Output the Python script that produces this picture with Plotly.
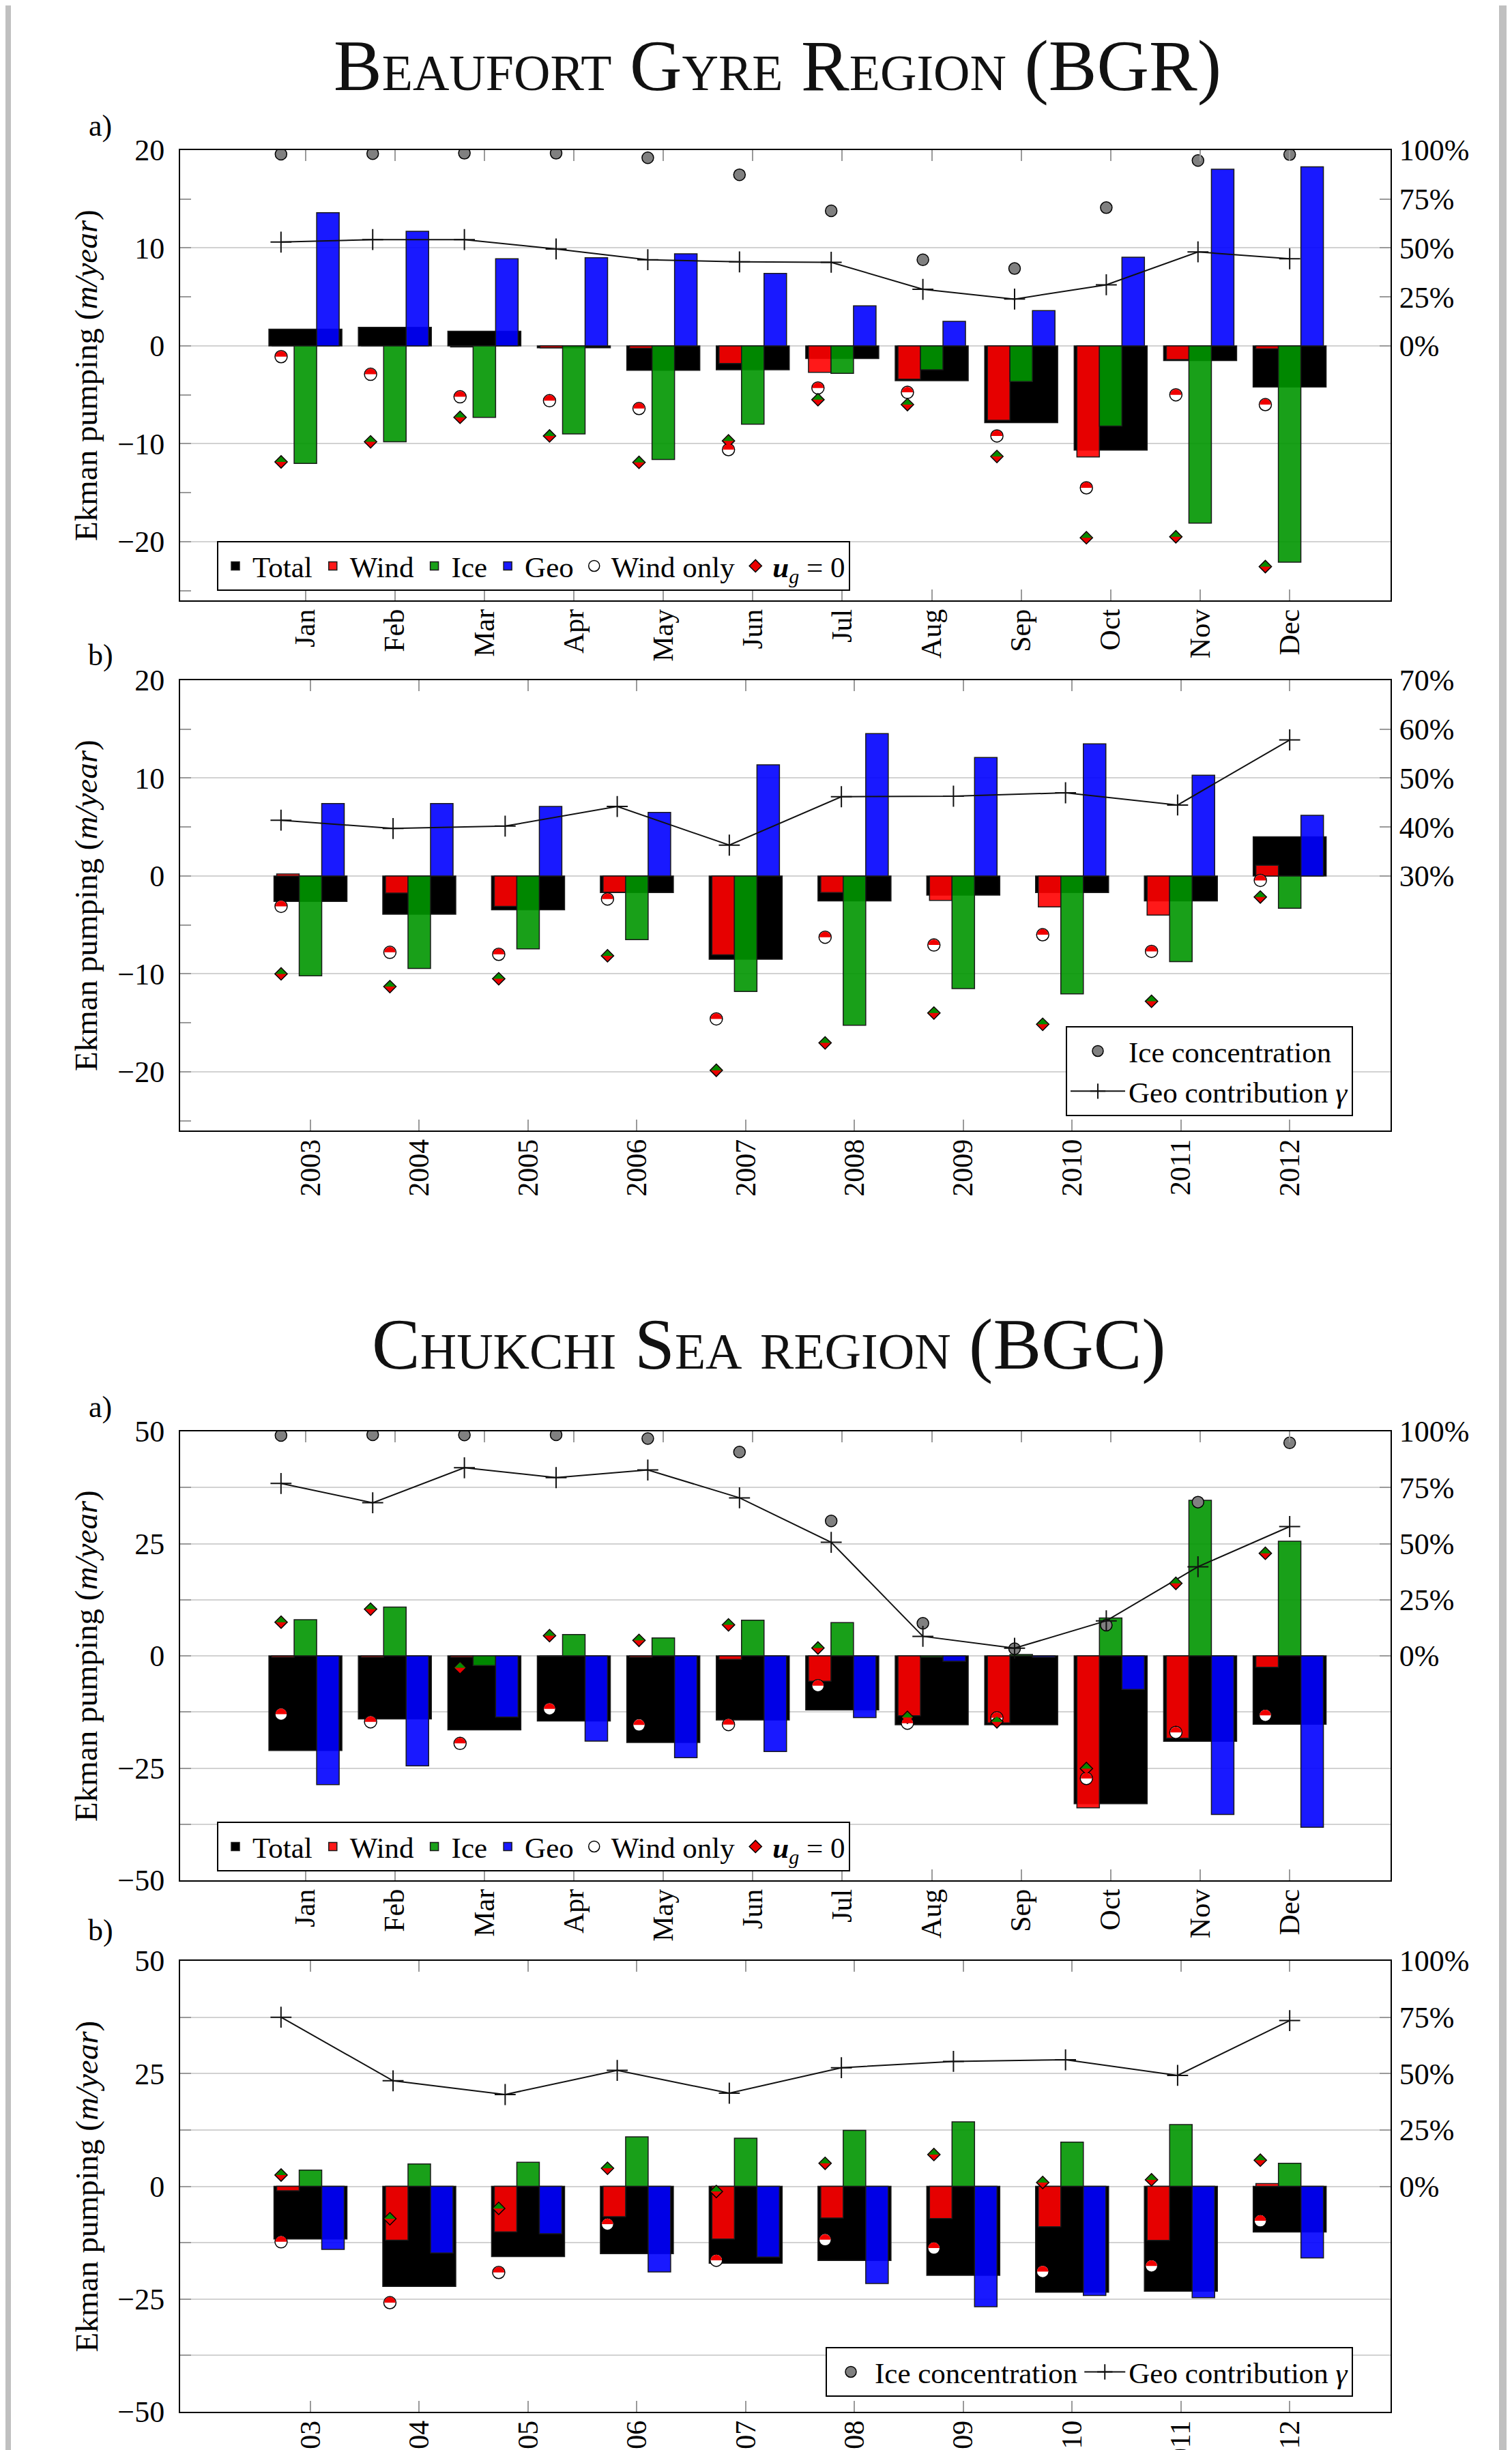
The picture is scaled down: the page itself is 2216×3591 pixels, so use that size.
import plotly.graph_objects as go

# ---------------- data ----------------
months = ['Jan', 'Feb', 'Mar', 'Apr', 'May', 'Jun', 'Jul', 'Aug', 'Sep', 'Oct', 'Nov', 'Dec']
years = ['2003', '2004', '2005', '2006', '2007', '2008', '2009', '2010', '2011', '2012']

# Beaufort Gyre Region, monthly (m/year)
bgr_m_total = [1.7, 1.9, 1.5, -0.2, -2.5, -2.45, -1.3, -3.55, -7.85, -10.65, -1.5, -4.2]
bgr_m_wind = [0.0, 0.0, -0.1, -0.2, -0.25, -1.8, -2.7, -3.4, -7.6, -11.35, -1.4, -0.3]
bgr_m_ice = [-12.0, -9.8, -7.3, -9.0, -11.6, -8.0, -2.8, -2.45, -3.65, -8.2, -18.1, -22.1]
bgr_m_geo = [13.6, 11.7, 8.9, 9.0, 9.4, 7.4, 4.1, 2.5, 3.6, 9.05, 18.05, 18.3]
bgr_m_windonly = [-1.1, -2.9, -5.2, -5.6, -6.4, -10.6, -4.3, -4.75, -9.2, -14.5, -5.0, -6.0]
bgr_m_ug0 = [-11.85, -9.8, -7.3, -9.2, -11.9, -9.7, -5.5, -6.0, -11.3, -19.6, -19.5, -22.55]
bgr_m_iceconc = [97.9, 98.2, 98.4, 98.4, 96.1, 87.4, 69.0, 44.0, 39.5, 70.6, 94.7, 97.7]
bgr_m_geocontrib = [53.0, 54.3, 54.3, 49.5, 44.0, 42.9, 42.7, 28.9, 23.9, 31.2, 48.0, 44.5]

# Beaufort Gyre Region, yearly
bgr_y_total = [-2.6, -3.9, -3.45, -1.7, -8.5, -2.55, -1.95, -1.7, -2.55, 4.0]
bgr_y_wind = [0.2, -1.75, -3.1, -1.65, -8.05, -1.7, -2.5, -3.15, -4.0, 1.1]
bgr_y_ice = [-10.2, -9.45, -7.45, -6.5, -11.8, -15.25, -11.5, -12.05, -8.75, -3.3]
bgr_y_geo = [7.4, 7.4, 7.1, 6.5, 11.35, 14.55, 12.1, 13.5, 10.3, 6.2]
bgr_y_windonly = [-3.1, -7.8, -8.0, -2.35, -14.6, -6.25, -7.05, -6.0, -7.7, -0.45]
bgr_y_ug0 = [-10.0, -11.3, -10.5, -8.15, -19.85, -17.05, -14.0, -15.15, -12.8, -2.15]
bgr_y_geocontrib = [41.4, 39.7, 40.2, 44.2, 36.3, 46.2, 46.3, 47.0, 44.5, 57.8]

# Chukchi Sea region, monthly
bgc_m_total = [-21.1, -14.05, -16.5, -14.5, -19.3, -14.3, -12.05, -15.35, -15.35, -32.95, -19.05, -15.25]
bgc_m_wind = [-0.3, -0.3, -0.3, -0.1, -0.3, -0.8, -5.65, -13.35, -14.95, -33.85, -18.35, -2.55]
bgc_m_ice = [8.05, 10.85, -2.15, 4.75, 4.0, 7.95, 7.4, -0.3, 0.3, 8.45, 34.65, 25.55]
bgc_m_geo = [-28.7, -24.5, -13.65, -19.0, -22.7, -21.3, -13.75, -1.2, -0.3, -7.5, -35.35, -38.2]
bgc_m_windonly = [-13.0, -14.7, -19.5, -11.8, -15.4, -15.3, -6.65, -15.0, -13.8, -27.3, -17.05, -13.25]
bgc_m_ug0 = [7.5, 10.4, -2.65, 4.5, 3.45, 6.9, 1.75, -13.7, -14.7, -25.1, 16.15, 22.85]
bgc_m_iceconc = [98.2, 98.5, 98.4, 98.5, 96.8, 90.8, 60.1, 14.5, 3.2, 13.7, 68.5, 94.9]
bgc_m_geocontrib = [76.8, 68.2, 83.8, 79.4, 82.8, 70.4, 50.6, 8.7, 3.4, 15.6, 39.7, 57.6]

# Chukchi Sea region, yearly
bgc_y_total = [-11.7, -22.2, -15.6, -14.95, -17.05, -16.45, -19.75, -23.5, -23.25, -10.15]
bgc_y_wind = [-1.0, -11.95, -10.1, -6.75, -11.7, -7.05, -7.15, -8.95, -12.0, 0.6]
bgc_y_ice = [3.6, 4.95, 5.35, 10.95, 10.65, 12.4, 14.3, 9.8, 13.7, 5.1]
bgc_y_geo = [-14.0, -14.8, -10.5, -19.0, -15.7, -21.55, -26.7, -24.2, -24.7, -15.9]
bgc_y_windonly = [-12.3, -25.8, -19.1, -8.4, -16.4, -11.85, -13.7, -18.9, -17.65, -7.65]
bgc_y_ug0 = [2.5, -7.2, -4.9, 4.0, -1.15, 5.1, 7.05, 0.85, 1.45, 5.8]
bgc_y_geocontrib = [75.0, 46.8, 40.7, 51.4, 41.3, 52.6, 55.4, 56.1, 49.2, 73.5]

# ---------------- style / layout constants ----------------
W, H = 2216, 3591
FONT = 'Liberation Serif'
X_LEFT, X_RIGHT = 256, 2030
TICKCOL = '#9a9a9a'
GRIDCOL = '#d2d2d2'
YFONT = dict(family=FONT, size=44, color='black')
XFONT = dict(family=FONT, size=42, color='black')
LFONT = dict(family=FONT, size=47, color='black')

panels = [
    dict(cats=months, total=bgr_m_total, wind=bgr_m_wind, ice=bgr_m_ice, geo=bgr_m_geo,
         windonly=bgr_m_windonly, ug0=bgr_m_ug0, iceconc=bgr_m_iceconc, geoc=bgr_m_geocontrib,
         top=212, bottom=872, yrange=[-26, 20], dtick=10, minor=5, minorgrid=False,
         rrange=[-130, 100], rticks=[0, 25, 50, 75, 100],
         xrange=[-1.400, 12.128], srange=[-1.1, 12.1], shift=0.2715, legend='legend'),
    dict(cats=years, total=bgr_y_total, wind=bgr_y_wind, ice=bgr_y_ice, geo=bgr_y_geo,
         windonly=bgr_y_windonly, ug0=bgr_y_ug0, iceconc=None, geoc=bgr_y_geocontrib,
         top=989, bottom=1649, yrange=[-26, 20], dtick=10, minor=5, minorgrid=False,
         rrange=[-22, 70], rticks=[30, 40, 50, 60, 70],
         xrange=[-1.198, 9.927], srange=[-0.9, 9.9], shift=0.27, legend='legend2'),
    dict(cats=months, total=bgc_m_total, wind=bgc_m_wind, ice=bgc_m_ice, geo=bgc_m_geo,
         windonly=bgc_m_windonly, ug0=bgc_m_ug0, iceconc=bgc_m_iceconc, geoc=bgc_m_geocontrib,
         top=2090, bottom=2748, yrange=[-50, 50], dtick=25, minor=12.5, minorgrid=True,
         rrange=[-100, 100], rticks=[0, 25, 50, 75, 100],
         xrange=[-1.400, 12.128], srange=[-1.1, 12.1], shift=0.2715, legend='legend3'),
    dict(cats=years, total=bgc_y_total, wind=bgc_y_wind, ice=bgc_y_ice, geo=bgc_y_geo,
         windonly=bgc_y_windonly, ug0=bgc_y_ug0, iceconc=None, geoc=bgc_y_geocontrib,
         top=2866, bottom=3527, yrange=[-50, 50], dtick=25, minor=12.5, minorgrid=True,
         rrange=[-100, 100], rticks=[0, 25, 50, 75, 100],
         xrange=[-1.198, 9.927], srange=[-0.9, 9.9], shift=0.27, legend='legend4'),
]


def xn(i):
    return 'x' if i == 1 else f'x{i}'


def yn(i):
    return 'y' if i == 1 else f'y{i}'


def xk(i):
    return 'xaxis' if i == 1 else f'xaxis{i}'


def yk(i):
    return 'yaxis' if i == 1 else f'yaxis{i}'


R = 9.0  # marker radius (px)
KAPPA = 0.5523


def half_circle_path(r):
    k = KAPPA * r
    return f"M {-r},0 C {-r},{k} {-k},{r} 0,{r} C {k},{r} {r},{k} {r},0 Z"


def half_diamond_path(r):
    return f"M {-r},0 L 0,{r} L {r},0 Z"


fig = go.Figure()
layout = {}
shapes = []
xdom = [X_LEFT / W, X_RIGHT / W]

for k, p in enumerate(panels):
    bx, mx, sx = 3 * k + 1, 3 * k + 2, 3 * k + 3
    ly, ry = 2 * k + 1, 2 * k + 2
    n = len(p['cats'])
    idx = list(range(n))
    ydom = [1 - p['bottom'] / H, 1 - p['top'] / H]
    ppu = (X_RIGHT - X_LEFT) / (p['xrange'][1] - p['xrange'][0])
    w_tot = 107 / ppu
    w_n = 33 / ppu
    show = p['legend'] in ('legend', 'legend3')

    bars = [
        ('Total', p['total'], 'rgb(0,0,0)', -w_tot / 2, w_tot),
        ('Wind', p['wind'], 'rgba(255,0,0,0.9)', -1.5 * w_n, w_n),
        ('Ice', p['ice'], 'rgba(0,150,0,0.9)', -0.5 * w_n, w_n),
        ('Geo', p['geo'], 'rgba(0,0,255,0.9)', 0.5 * w_n, w_n),
    ]
    for name, vals, col, off, wd in bars:
        fig.add_trace(go.Bar(x=idx, y=vals, name=name, offset=off, width=wd,
                             marker=dict(color=col, line=dict(color='#1a1a1a', width=1.5)),
                             xaxis=xn(bx), yaxis=yn(ly), legend=p['legend'], showlegend=show))

    # wind only markers (base white circle) and u_g = 0 markers (base red diamond)
    fig.add_trace(go.Scatter(x=idx, y=p['windonly'], mode='markers', name='Wind only',
                             marker=dict(symbol='circle', size=2 * R, color='white',
                                         line=dict(color='black', width=1.5)),
                             xaxis=xn(mx), yaxis=yn(ly), legend=p['legend'], showlegend=show))
    fig.add_trace(go.Scatter(x=idx, y=p['ug0'], mode='markers',
                             name='<b><i>u</i></b><sub><i>g</i></sub> = 0',
                             marker=dict(symbol='diamond', size=14, color='rgb(235,0,0)',
                                         line=dict(color='black', width=1.5)),
                             xaxis=xn(mx), yaxis=yn(ly), legend=p['legend'], showlegend=show))
    for i in idx:
        shapes.append(dict(type='path', xref=xn(mx), yref=yn(ly), xsizemode='pixel', ysizemode='pixel',
                           xanchor=i, yanchor=p['windonly'][i], path=half_circle_path(R - 0.8),
                           fillcolor='rgb(240,0,0)', line=dict(width=0), layer='above'))
        shapes.append(dict(type='path', xref=xn(mx), yref=yn(ly), xsizemode='pixel', ysizemode='pixel',
                           xanchor=i, yanchor=p['ug0'][i], path=half_diamond_path(8.0),
                           fillcolor='rgb(0,140,0)', line=dict(width=0), layer='above'))

    # ice concentration & geo contribution on secondary axes
    show2 = p['legend'] in ('legend2', 'legend4')
    ice_y = p['iceconc'] if p['iceconc'] is not None else [None]
    ice_x = idx if p['iceconc'] is not None else [None]
    fig.add_trace(go.Scatter(x=ice_x, y=ice_y, mode='markers', name='Ice concentration',
                             marker=dict(symbol='circle', size=17, color='#808080',
                                         line=dict(color='black', width=1.5)),
                             xaxis=xn(sx), yaxis=yn(ry), legend=p['legend'], showlegend=show2))
    fig.add_trace(go.Scatter(x=idx, y=p['geoc'], mode='lines+markers',
                             name='Geo contribution <i>γ</i>',
                             line=dict(color='#111111', width=2),
                             marker=dict(symbol='cross-thin', size=22,
                                         line=dict(color='#111111', width=2)),
                             xaxis=xn(sx), yaxis=yn(ry), legend=p['legend'], showlegend=show2))

    layout[xk(bx)] = dict(domain=xdom, anchor=yn(ly), range=p['xrange'], tickmode='array',
                          tickvals=idx, ticktext=p['cats'], tickangle=-90, ticks='inside', ticklen=16,
                          tickcolor=TICKCOL, tickwidth=1.5, mirror='allticks', showline=True,
                          linecolor='black', linewidth=2, showgrid=False, zeroline=False,
                          tickfont=XFONT, ticklabelstandoff=-6, automargin=False)
    layout[xk(mx)] = dict(overlaying=xn(bx), anchor=yn(ly),
                          range=[p['xrange'][0] + p['shift'], p['xrange'][1] + p['shift']],
                          visible=False)
    layout[xk(sx)] = dict(overlaying=xn(bx), anchor=yn(ly), range=p['srange'], visible=False)
    layout[yk(ly)] = dict(domain=ydom, anchor=xn(bx), range=p['yrange'], tickmode='linear', tick0=0,
                          dtick=p['dtick'], ticks='inside', ticklen=16, tickcolor=TICKCOL, tickwidth=1.5,
                          showgrid=True, gridcolor=GRIDCOL, gridwidth=2, zeroline=False,
                          showline=True, linecolor='black', linewidth=2,
                          minor=dict(dtick=p['minor'], tick0=0, ticks='inside', ticklen=16,
                                     tickcolor=TICKCOL, tickwidth=1.5, showgrid=p['minorgrid'],
                                     gridcolor=GRIDCOL, gridwidth=2),
                          tickfont=YFONT, ticklabelstandoff=12, automargin=False)
    layout[yk(ry)] = dict(overlaying=yn(ly), side='right', anchor=xn(bx), range=p['rrange'],
                          tickmode='array', tickvals=p['rticks'], ticktext=[f'{v}%' for v in p['rticks']],
                          ticks='inside', ticklen=16, tickcolor=TICKCOL, tickwidth=1.5,
                          showgrid=False, zeroline=False, showline=True, linecolor='black', linewidth=2,
                          tickfont=YFONT, ticklabelstandoff=2, automargin=False)

LEG = dict(bgcolor='white', bordercolor='black', borderwidth=2,
           font=dict(family=FONT, size=43, color='black'), itemwidth=40, tracegroupgap=0)
layout['legend'] = dict(LEG, orientation='h', x=310 / W, y=1 - 785 / H, xanchor='left', yanchor='top')
layout['legend3'] = dict(LEG, orientation='h', x=310 / W, y=1 - 2662 / H, xanchor='left', yanchor='top')
layout['legend2'] = dict(LEG, orientation='v', x=1975 / W, y=1 - 1628 / H, xanchor='right',
                         yanchor='bottom', itemwidth=80)
layout['legend4'] = dict(LEG, orientation='h', x=1975 / W, y=1 - 3505 / H, xanchor='right',
                         yanchor='bottom', itemwidth=60)

annotations = []
titles = [('Beaufort Gyre Region (BGR)', 1131, 88), ('Chukchi Sea region (BGC)', 1119, 1962)]
for txt, xp, yp in titles:
    annotations.append(dict(text=txt, x=xp / W, y=1 - yp / H, xref='paper', yref='paper', showarrow=False,
                            xanchor='center', yanchor='middle',
                            font=dict(family=FONT, size=106, color='#111111', variant='small-caps')))
for txt, yp in [('a)', 176), ('b)', 953), ('a)', 2054), ('b)', 2821)]:
    annotations.append(dict(text=txt, x=139 / W, y=1 - yp / H, xref='paper', yref='paper', showarrow=False,
                            xanchor='center', yanchor='middle', font=YFONT))
for p in panels:
    yc = (p['top'] + p['bottom']) / 2
    annotations.append(dict(text='Ekman pumping (<i>m/year</i>)', x=118 / W, y=1 - yc / H,
                            xref='paper', yref='paper', showarrow=False, textangle=-90,
                            xanchor='center', yanchor='middle', font=LFONT))

# page side strips
shapes.append(dict(type='rect', xref='paper', yref='paper', x0=0, x1=8 / W, y0=0, y1=1,
                   fillcolor='#c0c0c0', line=dict(width=0), layer='below'))
shapes.append(dict(type='rect', xref='paper', yref='paper', x0=2189 / W, x1=1, y0=0, y1=1,
                   fillcolor='#c0c0c0', line=dict(width=0), layer='below'))

fig.update_layout(width=W, height=H, margin=dict(l=0, r=0, t=0, b=0, pad=0),
                  paper_bgcolor='white', plot_bgcolor='white', barmode='overlay',
                  font=dict(family=FONT, size=44, color='black'), hovermode=False,
                  annotations=annotations, shapes=shapes, **layout)

fig.write_html("out.html")
